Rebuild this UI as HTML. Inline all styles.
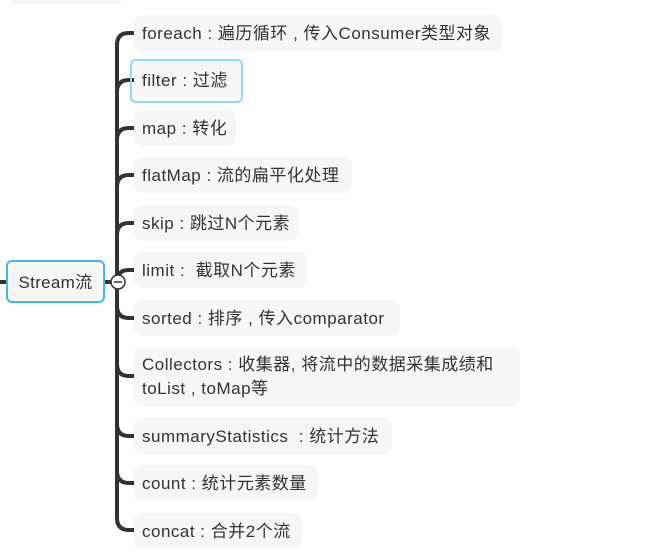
<!DOCTYPE html>
<html><head><meta charset="utf-8"><style>
body{margin:0;width:667px;height:552px;background:#fff;position:relative;overflow:hidden;font-family:"Liberation Sans","Noto Sans CJK SC",sans-serif;color:#333;}
.n{position:absolute;left:134px;height:36px;background:#f6f6f6;border-radius:8px;font-size:17px;letter-spacing:0.5px;line-height:38px;padding-left:8px;box-sizing:border-box;white-space:nowrap;}
svg{position:absolute;left:0;top:0}
</style></head><body>
<div style="position:absolute;left:8px;top:-10px;width:114px;height:14px;background:#f6f6f6;border-radius:6px"></div>
<svg width="667" height="552">
<path d="M117 45 Q117 33 129 33 L136 33 M117 92 Q117 80 129 80 L136 80 M117 140 Q117 128 129 128 L136 128 M117 187 Q117 175 129 175 L136 175 M117 235 Q117 223 129 223 L136 223 M117 282 Q117 270 129 270 L136 270 M117 306 Q117 318 129 318 L136 318 M117 364 Q117 376 129 376 L136 376 M117 424 Q117 436 129 436 L136 436 M117 471 Q117 483 129 483 L136 483 M117 518 Q117 530 129 530 L136 530 M117 45 L117 518" stroke="#333" stroke-width="4" fill="none"/>
<path d="M0 282 L8 282 M104 282 L112 282" stroke="#333" stroke-width="4"/>
<circle cx="118" cy="282" r="7" fill="#fff" stroke="#333" stroke-width="1.5"/>
<path d="M114 282 L122 282" stroke="#333" stroke-width="1.5"/>
</svg>
<div style="position:absolute;left:6px;top:260px;width:99px;height:43px;border:2px solid #3db8f2;border-radius:6px;box-sizing:border-box;background:#fff"></div>
<div style="position:absolute;left:10px;top:264px;width:91px;height:35px;background:#f6f6f6;border-radius:5px;font-size:17px;letter-spacing:0.3px;line-height:37px;text-align:center">Stream流</div>
<div class="n" style="top:15px;width:368px">foreach : 遍历循环 , 传入Consumer类型对象</div>
<div style="position:absolute;left:130px;top:59px;width:113px;height:44px;border:2px solid #8fd8fb;border-radius:6px;box-sizing:border-box"></div>
<div class="n" style="top:62px;width:107px">filter : 过滤</div>
<div class="n" style="top:110px;width:102px">map : 转化</div>
<div class="n" style="top:157px;width:218px">flatMap : 流的扁平化处理</div>
<div class="n" style="top:205px;width:164px">skip : 跳过N个元素</div>
<div class="n" style="top:252px;width:173px">limit :&nbsp; 截取N个元素</div>
<div class="n" style="top:300px;width:266px">sorted : 排序 , 传入comparator</div>
<div class="n" style="top:347px;width:386px;height:59px;line-height:24px;padding-top:6px">Collectors : 收集器, 将流中的数据采集成绩和<br>toList , toMap等</div>
<div class="n" style="top:418px;width:258px">summaryStatistics&nbsp; : 统计方法</div>
<div class="n" style="top:465px;width:184px">count : 统计元素数量</div>
<div class="n" style="top:513px;width:168px">concat : 合并2个流</div>
</body></html>
